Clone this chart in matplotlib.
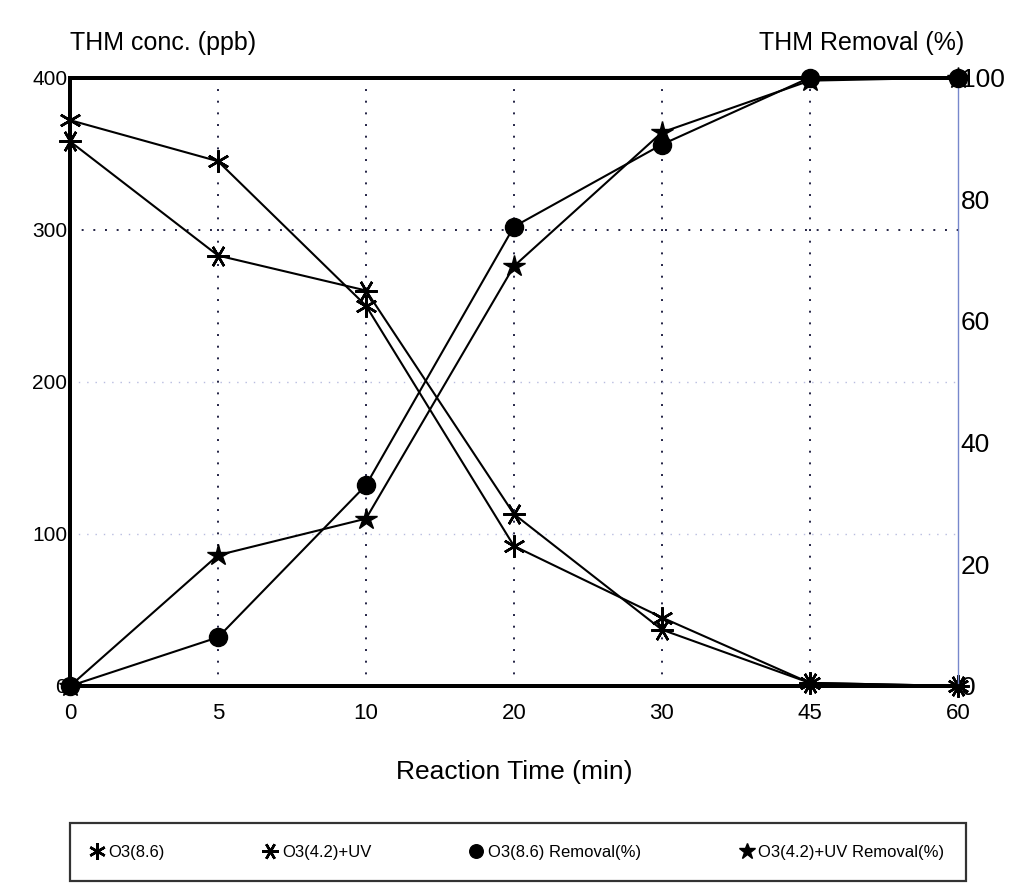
import matplotlib
matplotlib.use("Agg")
import matplotlib.pyplot as plt
import numpy as np

plt.rcParams['font.family'] = ['Liberation Sans', 'DejaVu Sans']

times = ["0", "5", "10", "20", "30", "45", "60"]
o3_86_conc = [372, 345, 250, 92, 45, 2, 0]
o3_42uv_conc = [358, 283, 260, 113, 37, 2, 0]
o3_86_removal = [0, 8, 33, 75.5, 89, 100, 100]
o3_42uv_removal = [0, 21.5, 27.5, 69, 91, 99.5, 100]

x = np.arange(len(times))

fig = plt.figure(figsize=(10.31, 8.92), dpi=100)
ax = fig.add_axes([0.068, 0.231, 0.861, 0.682])
ax2 = ax.twinx()

# grid
for xi in x[1:-1]:
    ax.axvline(xi, color='#222244', linestyle=(0, (1, 5)), linewidth=1.4, zorder=0)
ax.axhline(300, color='#222244', linestyle=(0, (1, 5)), linewidth=1.4, zorder=0)
ax.axhline(200, color='#b8bce0', linestyle=(0, (1, 5)), linewidth=1.0, zorder=0)
ax.axhline(100, color='#b8bce0', linestyle=(0, (1, 5)), linewidth=1.0, zorder=0)

lw = 1.5
ax.plot(x, o3_86_conc, color='black', lw=lw, marker=(6, 2, 0), ms=16, mew=1.8,
        label='O3(8.6)', clip_on=False, zorder=3)
ax.plot(x, o3_42uv_conc, color='black', lw=lw, marker=(6, 2, 90), ms=16, mew=1.8,
        label='O3(4.2)+UV', clip_on=False, zorder=3)
ax2.plot(x, o3_86_removal, color='black', lw=lw, marker='o', ms=13,
         label='O3(8.6) Removal(%)', clip_on=False, zorder=3)
ax2.plot(x, o3_42uv_removal, color='black', lw=lw, marker='*', ms=16,
         label='O3(4.2)+UV Removal(%)', clip_on=False, zorder=3)

ax.set_xlim(0, len(times) - 1)
ax.set_ylim(0, 400)
ax2.set_ylim(0, 100)
ax.set_xticks(x)
ax.set_xticklabels(times)
ax.set_yticks([0, 100, 200, 300, 400])
ax2.set_yticks([0, 20, 40, 60, 80, 100])

ax.tick_params(axis='x', length=0, pad=12, labelsize=16)
ax.tick_params(axis='y', length=0, pad=2, labelsize=15)
ax2.tick_params(axis='y', length=0, pad=2, labelsize=19)

for s in ['left', 'bottom', 'top']:
    ax.spines[s].set_linewidth(2.8)
    ax2.spines[s].set_linewidth(2.8)
ax.spines['right'].set_visible(False)
ax2.spines['right'].set_linewidth(1.0)
ax2.spines['right'].set_color('#7788cc')

fig.text(0.068, 0.952, 'THM conc. (ppb)', fontsize=18, ha='left', va='center')
fig.text(0.935, 0.952, 'THM Removal (%)', fontsize=18, ha='right', va='center')
ax.set_xlabel('Reaction Time (min)', fontsize=19, labelpad=26)

h1, l1 = ax.get_legend_handles_labels()
h2, l2 = ax2.get_legend_handles_labels()
leg = fig.legend(h1 + h2, l1 + l2, loc='center',
                 bbox_to_anchor=(0.06, 0.0448 - 0.036, 0.885, 0.072),
                 mode='expand', ncol=4,
                 fontsize=12, frameon=True, fancybox=False, edgecolor='black',
                 handlelength=0.6, handletextpad=0.4, columnspacing=1.0,
                 borderpad=1.3, markerscale=0.75)
leg.get_frame().set_linewidth(1.6)
for line in leg.get_lines():
    line.set_linestyle('None')

fig.savefig('out.png', dpi=100)
